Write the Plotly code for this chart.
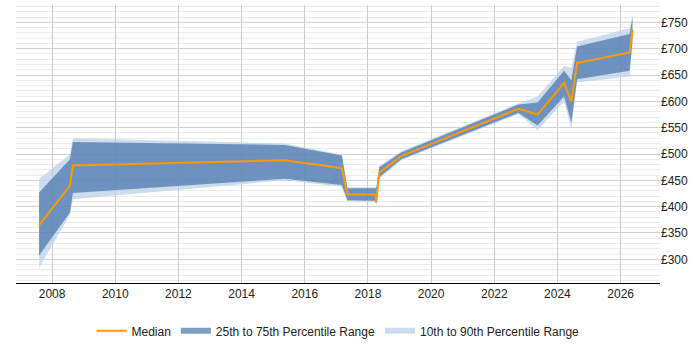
import plotly.graph_objects as go

dates = ["2007-08-04", "2008-07-26", "2008-08-29", "2015-05-15", "2017-03-05",
         "2017-05-08", "2018-03-25", "2018-04-08", "2018-05-12", "2019-01-20",
         "2022-10-08", "2023-05-16", "2024-03-18", "2024-06-10", "2024-08-15",
         "2026-04-15", "2026-05-18"]
median = [365, 440, 478, 488, 473, 423, 423, 409, 465, 496, 586, 575, 635, 600, 673, 693, 736]
p25 = [307, 389, 426, 453, 441, 412, 411, 405, 456, 490, 578, 554, 609, 560, 642, 658, 715]
p75 = [427, 490, 523, 517, 497, 435, 435, 435, 475, 503, 594, 598, 658, 640, 704, 728, 760]
p10 = [284, 384, 414, 450, 438, 410, 409, 403, 454, 488, 576, 545, 600, 548, 636, 647, 710]
p90 = [453, 499, 530, 520, 499, 437, 437, 437, 477, 505, 596, 609, 667, 664, 713, 739, 762]

tick_years = [str(y) for y in range(2008, 2027, 2)]

fig = go.Figure()
fig.add_trace(go.Scatter(
    x=dates + dates[::-1], y=p90 + p10[::-1], fill="toself", mode="none",
    fillcolor="rgba(190,210,232,0.75)", name="10th to 90th Percentile Range",
    legendrank=3, hoverinfo="skip"))
fig.add_trace(go.Scatter(
    x=dates + dates[::-1], y=p75 + p25[::-1], fill="toself", mode="none",
    fillcolor="rgba(65,110,168,0.68)", name="25th to 75th Percentile Range",
    legendrank=2, hoverinfo="skip"))
fig.add_trace(go.Scatter(
    x=dates, y=median, mode="lines", line=dict(color="#FF9900", width=2),
    name="Median", legendrank=1))

fig.update_layout(
    width=700, height=350,
    margin=dict(l=16, r=40, t=5, b=58),
    paper_bgcolor="white", plot_bgcolor="white",
    font=dict(family="Liberation Sans, Arial, sans-serif", size=12, color="#222"),
    showlegend=True,
    legend=dict(orientation="h", x=0.5, xanchor="center", y=-0.12, yanchor="top",
                font=dict(size=12), traceorder="normal", itemwidth=30),
    xaxis=dict(
        type="date", range=["2006-11-10", "2027-04-01"],
        tickvals=[y + "-01-01" for y in tick_years], ticktext=tick_years,
        showgrid=True, gridcolor="#cccccc", gridwidth=1,
        showline=True, linecolor="#000", linewidth=1, ticks="", zeroline=False),
    yaxis=dict(
        side="right", range=[255, 783], dtick=50, tickprefix="£",
        showgrid=True, gridcolor="#d0d0d0", gridwidth=1,
        minor=dict(dtick=10, showgrid=True, gridcolor="#ebebeb", gridwidth=1),
        showline=False, ticks="", zeroline=False),
)
fig.write_html("out.html")
